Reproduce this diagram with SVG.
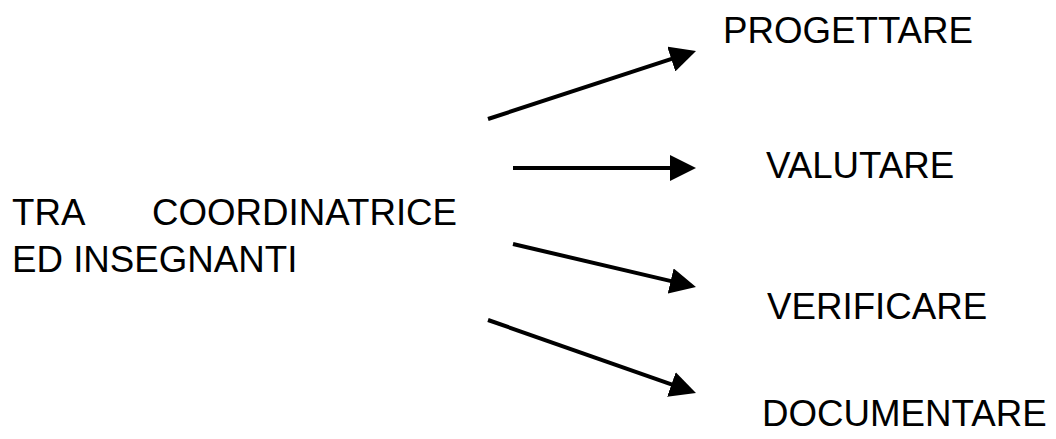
<svg xmlns="http://www.w3.org/2000/svg" width="1056" height="439" viewBox="0 0 1056 439">
  <style>
    text { font-family: "Liberation Sans", Arial, sans-serif; font-size: 36.7px; fill: #000; }
    .conn { stroke: #000; stroke-width: 4; fill: none; marker-end: url(#ah); }
  </style>
  <defs>
    <marker id="ah" viewBox="0 0 26 26" refX="6" refY="13" markerWidth="26" markerHeight="26" markerUnits="userSpaceOnUse" orient="auto">
      <path d="M0,0 L26,13 L0,26 z" fill="#000"/>
    </marker>
  </defs>
  <rect width="1056" height="439" fill="#fff"/>
  <g id="source">
    <text x="12" y="225">TRA</text>
    <text x="152" y="225">COORDINATRICE</text>
    <text x="12" y="272">ED INSEGNANTI</text>
  </g>
  <g id="progettare"><text x="723" y="43">PROGETTARE</text></g>
  <g id="valutare"><text x="766" y="178">VALUTARE</text></g>
  <g id="verificare"><text x="767" y="319">VERIFICARE</text></g>
  <g id="documentare"><text x="762" y="426">DOCUMENTARE</text></g>
  <g id="connectors">
    <line class="conn" x1="488" y1="119" x2="677" y2="57.2"/>
    <line class="conn" x1="513" y1="168" x2="676" y2="168"/>
    <line class="conn" x1="513" y1="244" x2="676.5" y2="282.4"/>
    <line class="conn" x1="488" y1="320" x2="677.1" y2="386.4"/>
  </g>
</svg>
